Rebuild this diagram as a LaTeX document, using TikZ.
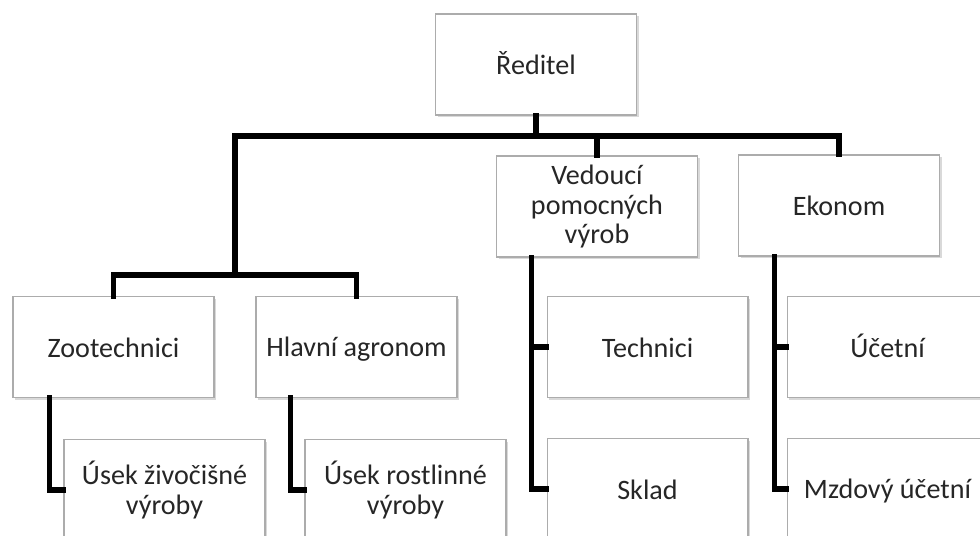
\documentclass[tikz,border=0pt]{standalone}
\usepackage{fontspec}
\setmainfont{Carlito}
\usetikzlibrary{shadows}

\begin{document}
\begin{tikzpicture}[x=0.02cm,y=-0.02cm,
    unit/.style={draw=gray!65,line width=0.6pt,fill=white,text=black!85,
        minimum width=4.02cm,minimum height=2.02cm,inner sep=2pt,align=center,
        font=\fontsize{16}{17}\selectfont,execute at begin node={\rule[-2pt]{0pt}{15.5pt}},
        drop shadow={shadow xshift=1.3pt,shadow yshift=-1.3pt,opacity=0.3,fill=gray}},
    link/.style={line width=2.9pt,line cap=rect}]
    \useasboundingbox (0,0) rectangle (980,535);
    \clip (0,0) rectangle (980,535);

    \node[unit] (reditel) at (536,64.5) {Ředitel};
    \node[unit] (vedouci) at (597,206.5) {Vedoucí\\pomocných\\výrob};
    \node[unit] (ekonom) at (839,205.5) {Ekonom};
    \node[unit] (zoo) at (113.5,347) {Zootechnici};
    \node[unit] (agronom) at (356.5,347) {Hlavní agronom};
    \node[unit] (usekz) at (164.5,490) {Úsek živočišné\\výroby};
    \node[unit] (usekr) at (405.5,490) {Úsek rostlinné\\výroby};
    \node[unit] (technici) at (647.5,347) {Technici};
    \node[unit] (sklad) at (647.5,489) {Sklad};
    \node[unit] (ucetni) at (887.5,347) {Účetní};
    \node[unit] (mzdovy) at (887.5,489) {Mzdový účetní};

    \coordinate (bus) at (536,136);
    \coordinate (farm) at (235,275);

    \draw[link] (reditel.south) -- (bus);
    \draw[link] (bus) -| (farm);
    \draw[link] (bus) -| (vedouci.north);
    \draw[link] (bus) -| (ekonom.north);
    \draw[link] (farm) -| (zoo.north);
    \draw[link] (farm) -| (agronom.north);

    \draw[link] ([xshift=21]zoo.south west) |- (usekz.west);
    \draw[link] ([xshift=20]agronom.south west) |- (usekr.west);
    \draw[link] ([xshift=20]vedouci.south west) |- (technici.west);
    \draw[link] ([xshift=20]vedouci.south west) |- (sklad.west);
    \draw[link] ([xshift=21]ekonom.south west) |- (ucetni.west);
    \draw[link] ([xshift=21]ekonom.south west) |- (mzdovy.west);
\end{tikzpicture}
\end{document}
